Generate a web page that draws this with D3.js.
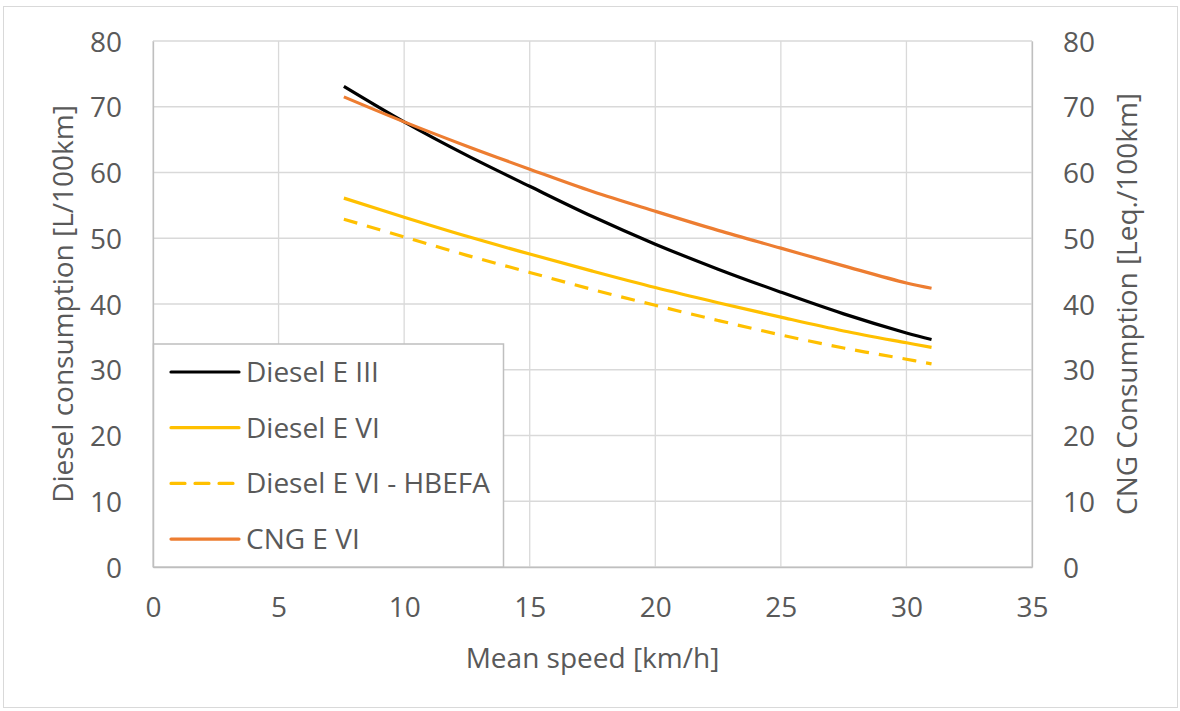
<!doctype html>
<html lang="en">
<head>
<meta charset="UTF-8">
<title>Fuel consumption vs mean speed</title>
<script src="https://d3js.org/d3.v7.min.js"></script>
<style>
  body { margin: 0; background: #fff; }
  text { font-family: "Open Sans", Lato, sans-serif; fill: #595959; }
</style>
</head>
<body>
<script>
// data
var speeds = [7.6, 10, 12.5, 15, 17.5, 20, 22.5, 25, 27.5, 30, 31];
var dieselE3 = [73.1, 67.7, 62.6, 57.9, 53.3, 49.1, 45.3, 41.8, 38.5, 35.6, 34.6];
var dieselE6 = [56.1, 53.2, 50.3, 47.6, 45.0, 42.5, 40.2, 38.0, 35.9, 34.1, 33.4];
var dieselE6Hbefa = [52.9, 50.2, 47.4, 44.8, 42.2, 39.8, 37.5, 35.3, 33.3, 31.6, 30.9];
var cngE6 = [71.5, 67.7, 64.0, 60.5, 57.1, 54.1, 51.2, 48.5, 45.8, 43.2, 42.4];

var seriesNames = ["Diesel E III", "Diesel E VI", "Diesel E VI - HBEFA", "CNG E VI"];
var seriesValues = [dieselE3, dieselE6, dieselE6Hbefa, cngE6];
var seriesColors = ["#000000", "#FFC000", "#FFC000", "#ED7D31"];
var seriesDash = [null, null, "14,10", null];

var xTicks = [0, 5, 10, 15, 20, 25, 30, 35];
var yTicks = [0, 10, 20, 30, 40, 50, 60, 70, 80];

var width = 1180, height = 711;
var margin = {left: 153, right: 148, top: 41, bottom: 144};
var fontSize = 28;

var svg = d3.select("body").append("svg")
    .attr("width", width)
    .attr("height", height);

// chart frame
svg.append("rect")
    .attr("x", 3.5).attr("y", 6.5)
    .attr("width", 1174).attr("height", 701)
    .attr("fill", "#fff")
    .attr("stroke", "#d9d9d9");

var x = d3.scaleLinear().domain([0, 35]).range([margin.left, width - margin.right]);
var y = d3.scaleLinear().domain([0, 80]).range([height - margin.bottom, margin.top]);
var y2 = d3.scaleLinear().domain([0, 80]).range([height - margin.bottom, margin.top]);

// gridlines
svg.append("g")
    .selectAll("line")
    .data(yTicks)
    .enter().append("line")
        .attr("x1", x(0)).attr("x2", x(35))
        .attr("y1", d => y(d)).attr("y2", d => y(d))
        .attr("stroke", "#d9d9d9").attr("stroke-width", 1.3);

svg.append("g")
    .selectAll("line")
    .data(xTicks)
    .enter().append("line")
        .attr("x1", d => x(d)).attr("x2", d => x(d))
        .attr("y1", y(0)).attr("y2", y(80))
        .attr("stroke", "#d9d9d9").attr("stroke-width", 1.3);

// axes
var xAxis = svg.append("g")
    .attr("transform", "translate(0," + y(0) + ")")
    .call(d3.axisBottom(x).tickValues(xTicks).tickSize(0).tickPadding(30));
var yAxis = svg.append("g")
    .attr("transform", "translate(" + x(0) + ",0)")
    .call(d3.axisLeft(y).tickValues(yTicks).tickSize(0).tickPadding(31));
var yAxis2 = svg.append("g")
    .attr("transform", "translate(" + x(35) + ",0)")
    .call(d3.axisRight(y2).tickValues(yTicks).tickSize(0).tickPadding(31));

[xAxis, yAxis, yAxis2].forEach(function(a) {
    a.select(".domain").attr("stroke", "#bfbfbf").attr("stroke-width", 1.3);
    a.selectAll("text")
        .attr("font-family", "'Open Sans', sans-serif")
        .attr("font-size", fontSize)
        .attr("fill", "#595959");
});
yAxis.selectAll("text").attr("dy", "0.36em");
yAxis2.selectAll("text").attr("dy", "0.36em");
xAxis.selectAll("text").attr("dy", "0.71em");

// axis titles
svg.append("text")
    .attr("x", (x(0) + x(35)) / 2).attr("y", 668)
    .attr("text-anchor", "middle")
    .attr("font-size", fontSize)
    .text("Mean speed [km/h]");

svg.append("text")
    .attr("transform", "translate(73," + (y(0) + y(80)) / 2 + ") rotate(-90)")
    .attr("text-anchor", "middle")
    .attr("font-size", fontSize)
    .text("Diesel consumption [L/100km]");

svg.append("text")
    .attr("transform", "translate(1137," + (y(0) + y(80)) / 2 + ") rotate(-90)")
    .attr("text-anchor", "middle")
    .attr("font-size", fontSize)
    .text("CNG Consumption [Leq./100km]");

// series lines
var line = d3.line()
    .x(d => x(d[0]))
    .y(d => y(d[1]))
    .curve(d3.curveCatmullRom.alpha(0.5));

seriesValues.forEach(function(vals, i) {
    svg.append("path")
        .datum(speeds.map((s, j) => [s, vals[j]]))
        .attr("fill", "none")
        .attr("stroke", seriesColors[i])
        .attr("stroke-width", 3.2)
        .attr("stroke-dasharray", seriesDash[i])
        .attr("d", line);
});

// legend
var legend = svg.append("g");
legend.append("rect")
    .attr("x", 153.5).attr("y", 344)
    .attr("width", 350).attr("height", 223)
    .attr("fill", "#fff")
    .attr("stroke", "#bfbfbf")
    .attr("stroke-width", 1.5);

var rows = legend.selectAll("g.row")
    .data(seriesNames)
    .enter().append("g")
        .attr("transform", (d, i) => "translate(0," + (372 + i * 55.7) + ")");

rows.append("line")
    .attr("x1", 171).attr("x2", 239)
    .attr("stroke", (d, i) => seriesColors[i])
    .attr("stroke-width", 3.2)
    .attr("stroke-linecap", "round")
    .attr("stroke-dasharray", (d, i) => seriesDash[i] ? "14,10" : null);

rows.append("text")
    .attr("x", 246)
    .attr("dy", "0.36em")
    .attr("font-size", fontSize)
    .text(d => d);
</script>
</body>
</html>
